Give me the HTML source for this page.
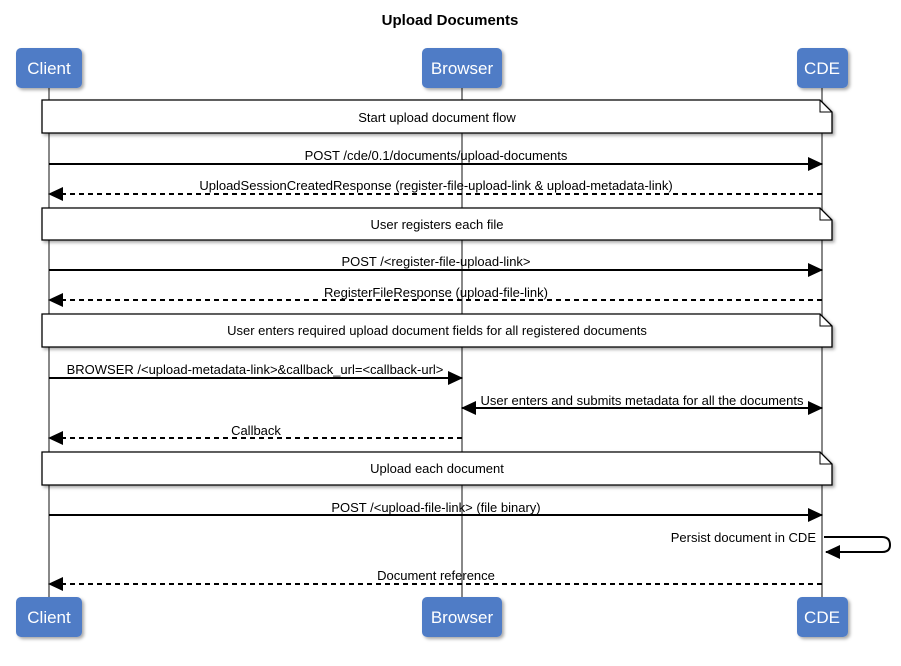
<!DOCTYPE html>
<html><head><style>body{margin:0;background:#fff}svg text{font-family:"Liberation Sans",sans-serif}</style></head><body>
<svg width="901" height="661" xmlns="http://www.w3.org/2000/svg">
<defs>
<marker id="a" markerWidth="15" markerHeight="14" refX="14" refY="7" orient="auto" markerUnits="userSpaceOnUse"><path d="M0,0 L15,7 L0,14 z" fill="#000"/></marker>
<marker id="b" markerWidth="15" markerHeight="14" refX="1" refY="7" orient="auto" markerUnits="userSpaceOnUse"><path d="M15,0 L0,7 L15,14 z" fill="#000"/></marker>
<filter id="s"><feDropShadow dx="2" dy="2" stdDeviation="1.5" flood-opacity="0.35"/></filter>
</defs>
<text x="450" y="25" text-anchor="middle" font-size="15" font-weight="bold">Upload Documents</text>
<g stroke="#888" stroke-width="2"><line x1="49" y1="88" x2="49" y2="597"/><line x1="462" y1="88" x2="462" y2="597"/><line x1="822" y1="88" x2="822" y2="597"/></g>
<g fill="#4f7bc6" filter="url(#s)">
<rect x="16" y="48" width="66" height="40" rx="5"/><rect x="422" y="48" width="80" height="40" rx="5"/><rect x="797" y="48" width="51" height="40" rx="5"/>
<rect x="16" y="597" width="66" height="40" rx="5"/><rect x="422" y="597" width="80" height="40" rx="5"/><rect x="797" y="597" width="51" height="40" rx="5"/>
</g>
<g fill="#fff" font-size="17" text-anchor="middle">
<text x="49" y="74">Client</text><text x="462" y="74">Browser</text><text x="822" y="74">CDE</text>
<text x="49" y="623">Client</text><text x="462" y="623">Browser</text><text x="822" y="623">CDE</text>
</g>
<g fill="#fff" stroke="#000" stroke-width="1.3" filter="url(#s)">
<path d="M42,100 H820 L832,112 V133 H42 z"/><path d="M42,208 H820 L832,220 V240 H42 z"/>
<path d="M42,314 H820 L832,326 V347 H42 z"/><path d="M42,452 H820 L832,464 V485 H42 z"/>
</g>
<g fill="none" stroke="#000" stroke-width="1"><path d="M820,100 V112 H832"/><path d="M820,208 V220 H832"/><path d="M820,314 V326 H832"/><path d="M820,452 V464 H832"/></g>
<g font-size="13" text-anchor="middle">
<text x="437" y="122">Start upload document flow</text>
<text x="437" y="229">User registers each file</text>
<text x="437" y="335">User enters required upload document fields for all registered documents</text>
<text x="437" y="473">Upload each document</text>
<text x="436" y="160">POST /cde/0.1/documents/upload-documents</text>
<text x="436" y="190">UploadSessionCreatedResponse (register-file-upload-link &amp; upload-metadata-link)</text>
<text x="436" y="266">POST /&lt;register-file-upload-link&gt;</text>
<text x="436" y="297">RegisterFileResponse (upload-file-link)</text>
<text x="255" y="374">BROWSER /&lt;upload-metadata-link&gt;&amp;callback_url=&lt;callback-url&gt;</text>
<text x="642" y="405">User enters and submits metadata for all the documents</text>
<text x="256" y="435">Callback</text>
<text x="436" y="512">POST /&lt;upload-file-link&gt; (file binary)</text>
<text x="816" y="542" text-anchor="end">Persist document in CDE</text>
<text x="436" y="580">Document reference</text>
</g>
<g stroke="#000" stroke-width="2" fill="none">
<line x1="49" y1="164" x2="822" y2="164" marker-end="url(#a)"/>
<line x1="822" y1="194" x2="49" y2="194" stroke-dasharray="5,4" marker-end="url(#a)"/>
<line x1="49" y1="270" x2="822" y2="270" marker-end="url(#a)"/>
<line x1="822" y1="300" x2="49" y2="300" stroke-dasharray="5,4" marker-end="url(#a)"/>
<line x1="49" y1="378" x2="462" y2="378" marker-end="url(#a)"/>
<line x1="462" y1="408" x2="822" y2="408" marker-start="url(#b)" marker-end="url(#a)"/>
<line x1="462" y1="438" x2="49" y2="438" stroke-dasharray="5,4" marker-end="url(#a)"/>
<line x1="49" y1="515" x2="822" y2="515" marker-end="url(#a)"/>
<path d="M824,537 H882 Q890,537 890,545 Q890,552 882,552 H826" marker-end="url(#a)"/>
<line x1="822" y1="584" x2="49" y2="584" stroke-dasharray="5,4" marker-end="url(#a)"/>
</g>
</svg>
</body></html>
